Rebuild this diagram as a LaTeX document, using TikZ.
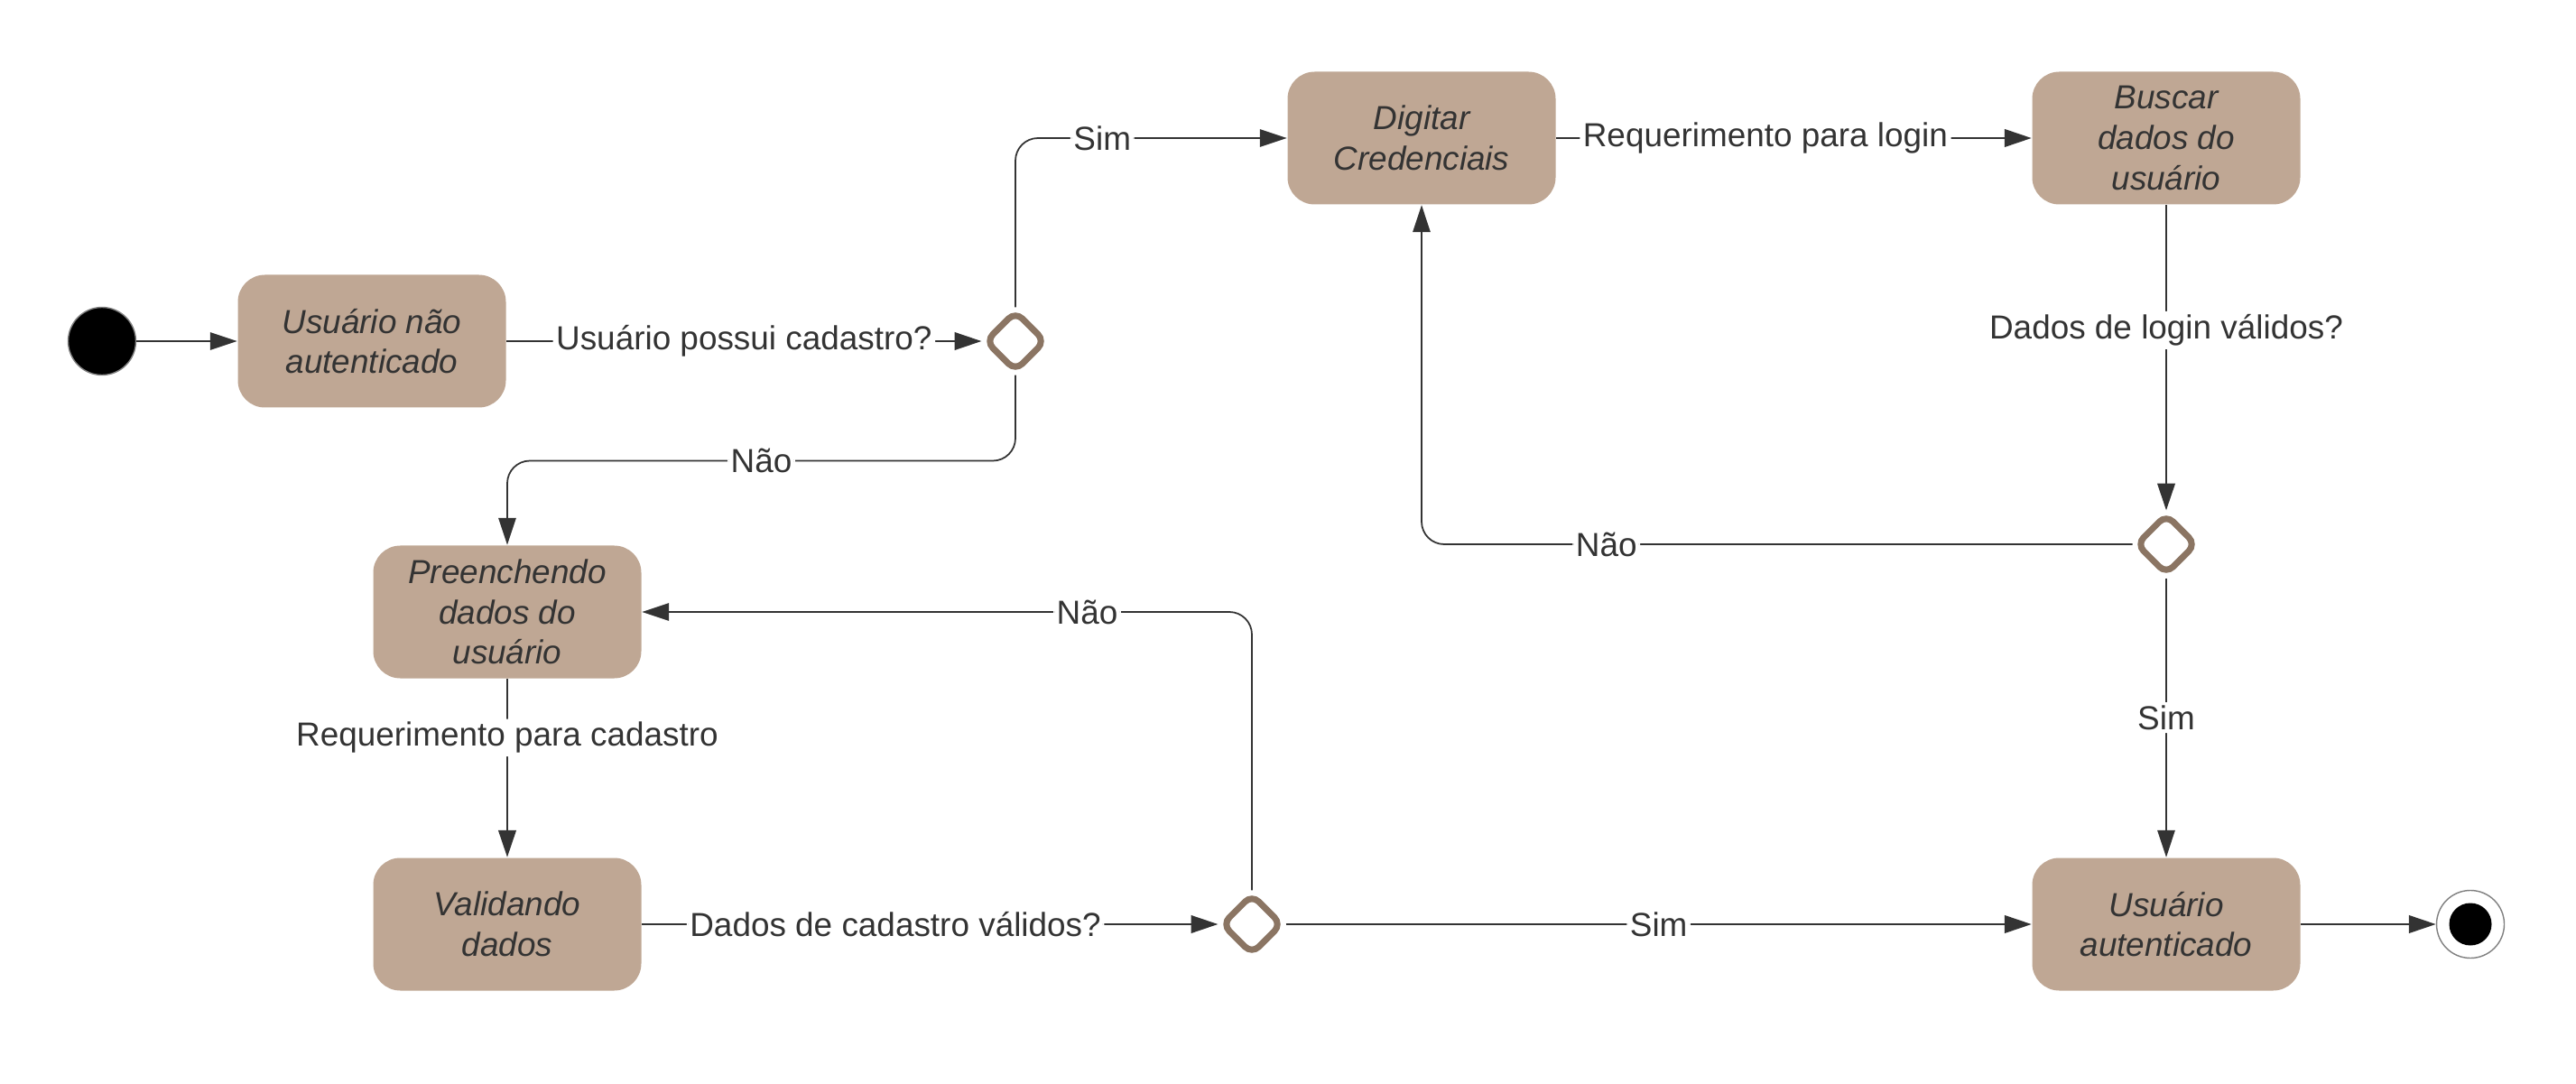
\documentclass[tikz,border=0pt]{standalone}
\usepackage{fontspec}
\setmainfont{Liberation Sans}
\usepackage{tikz}
\usetikzlibrary{shapes.geometric,arrows.meta}
\definecolor{boxfill}{RGB}{191,167,148}
\definecolor{rhombline}{RGB}{139,117,99}
\definecolor{inkgray}{RGB}{51,51,51}

\begin{document}
\begin{tikzpicture}[
  estado/.style={rectangle,rounded corners=0.3cm,fill=boxfill,minimum width=2.97cm,minimum height=1.47cm,align=center,font=\fontsize{10.5}{12.7}\selectfont\itshape,text=inkgray},
  decisao/.style={diamond,draw=rhombline,line width=2pt,fill=white,rounded corners=3pt,minimum size=0.68cm,inner sep=0pt},
  rotulo/.style={fill=white,inner sep=1pt,font=\fontsize{10.5}{12.7}\selectfont,text=inkgray},
  seta/.style={draw=inkgray,line width=0.8pt,-{Triangle[length=8.5pt,width=5.5pt]},rounded corners=0.25cm},
  fina/.style={seta,line width=0.5pt},
]
\useasboundingbox (0,0) rectangle (28.54,12);
%
\node [circle,fill=black,draw=gray,minimum size=0.75cm,inner sep=0pt] (ini) at (1.13,8.22) {};
\node [circle,fill=white,draw=gray,minimum size=0.75cm,inner sep=0pt] (fim) at (27.37,1.76) {};
\node [circle,fill=black,minimum size=0.47cm,inner sep=0pt] (fimint) at (27.37,1.76) {};
%
\node [estado] (naoaut) at ( 4.12, 8.22) {Usuário não\\autenticado};
\node [estado] (dig)    at (15.75,10.47) {Digitar\\Credenciais};
\node [estado] (busca)  at (24.00,10.47) {Buscar\\dados do\\usuário};
\node [estado] (pre)    at ( 5.62, 5.22) {Preenchendo\\dados do\\usuário};
\node [estado] (val)    at ( 5.62, 1.76) {Validando\\dados};
\node [estado] (aut)    at (24.00, 1.76) {Usuário\\autenticado};
%
\node [decisao] (d1) at (11.25,8.22) {};
\node [decisao] (d2) at (24.00,5.97) {};
\node [decisao] (d3) at (13.87,1.76) {};
%
\path[fina] (ini) -- (naoaut);
\path[seta] (naoaut) -- node[rotulo] {Usuário possui cadastro?} (d1);
\path[fina] (d1.north) |- node[rotulo,pos=0.66] {Sim} (dig.west);
\path[fina] (d1.south) -- ++(0,-0.95) -| node[rotulo,pos=0.25] {Não} (pre.north);
\path[seta] (dig) -- node[rotulo,pos=0.44] {Requerimento para login} (busca);
\path[seta] (busca) -- node[rotulo,pos=0.41] {Dados de login válidos?} (d2);
\path[fina] (d2.west) -| node[rotulo,pos=0.37] {Não} (dig.south);
\path[fina] (d2.south) -- node[rotulo] {Sim} (aut.north);
\path[seta] (pre) -- node[rotulo,pos=0.33] {Requerimento para cadastro} (val);
\path[seta] (val) -- node[rotulo,pos=0.44] {Dados de cadastro válidos?} (d3);
\path[fina] (d3.north) |- node[rotulo,pos=0.635] {Não} (pre.east);
\path[seta] (d3.east) -- node[rotulo] {Sim} (aut.west);
\path[seta] (aut) -- (fim);
\end{tikzpicture}
\end{document}
